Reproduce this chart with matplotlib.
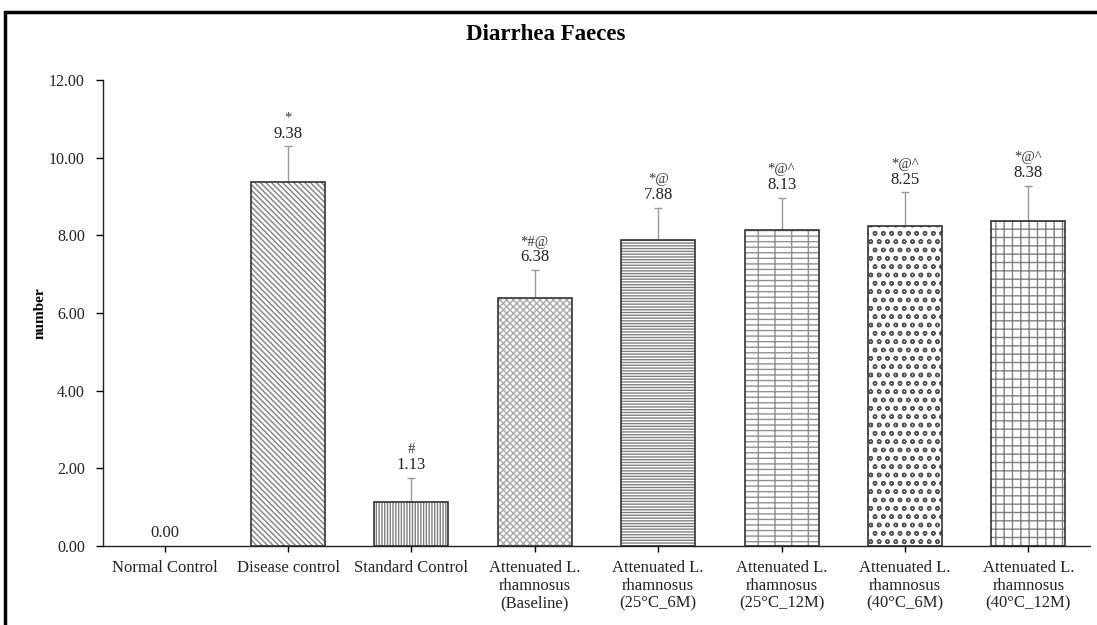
import matplotlib
matplotlib.use("Agg")
import numpy as np
import matplotlib.pyplot as plt
from matplotlib.patches import Rectangle

plt.rcParams['font.family'] = ['Liberation Serif', 'DejaVu Serif']
plt.rcParams['hatch.linewidth'] = 1.0

categories = ["Normal Control", "Disease control", "Standard Control",
              "Attenuated L.\nrhamnosus\n(Baseline)",
              "Attenuated L.\nrhamnosus\n(25°C_6M)",
              "Attenuated L.\nrhamnosus\n(25°C_12M)",
              "Attenuated L.\nrhamnosus\n(40°C_6M)",
              "Attenuated L.\nrhamnosus\n(40°C_12M)"]
means = [0.00, 9.38, 1.13, 6.38, 7.88, 8.13, 8.25, 8.38]
errors = [0.00, 0.91, 0.63, 0.73, 0.83, 0.84, 0.86, 0.90]
marks = ["", "*", "#", "*#@", "*@", "*@^", "*@^", "*@^"]
hatches = ["", "\\\\\\\\\\\\", "||||||", "xxxxx", "------", "+--", "oo", "++"]
hatch_colors = ["#808080", "#808080", "#808080", "#a8a8a8", "#808080",
                "#909090", "#555555", "#808080"]

fig = plt.figure(figsize=(10.97, 6.25), dpi=100)
ax = fig.add_axes([0.0939, 0.1264, 0.8997, 0.7456])

x = np.arange(len(categories))
# hatch layer in grey, outline drawn on top in dark
ax.bar(x, means, width=0.6, color='white', edgecolor=hatch_colors,
       hatch=hatches, linewidth=0, zorder=2)
ax.bar(x, means, width=0.6, color='none', edgecolor='#333333',
       linewidth=[0 if m == 0 else 1.2 for m in means], zorder=3)
ax.errorbar(x[1:], means[1:], yerr=[np.zeros(len(x) - 1), errors[1:]],
            fmt='none', ecolor='#999999', elinewidth=1.0, capsize=3,
            capthick=1.0, zorder=1)

for xi, m, e, s in zip(x, means, errors, marks):
    top = m + e
    ax.text(xi, top + 0.12, f"{m:.2f}", ha='center', va='bottom',
            fontsize=12, color='#222222')
    if s:
        ax.text(xi, top + 0.55, s, ha='center', va='bottom',
                fontsize=10.5, color='#333333')

ax.set_xlim(-0.5, 7.5)
ax.set_ylim(0, 12)
ax.set_yticks(np.arange(0, 12.1, 2))
ax.set_yticklabels([f"{v:.2f}" for v in np.arange(0, 12.1, 2)], fontsize=11.5,
                   color='#222222')
ax.set_xticks(x)
ax.set_xticklabels(categories, fontsize=12, color='#222222',
                   linespacing=1.15)
ax.tick_params(axis='y', length=5, width=1, pad=8)
ax.tick_params(axis='x', length=4, width=1, pad=6)
for side in ['top', 'right']:
    ax.spines[side].set_visible(False)
for side in ['left', 'bottom']:
    ax.spines[side].set_linewidth(1.0)
    ax.spines[side].set_color('#222222')

ax.set_ylabel("number", fontsize=11, fontweight='bold', labelpad=2)
fig.text(0.497, 0.944, "Diarrhea Faeces", ha='center', va='center',
         fontsize=16.5, fontweight='bold')

frame = Rectangle((0.005, -0.1), 1.2, 1.081, transform=fig.transFigure,
                  fill=False, edgecolor='black', linewidth=2.5)
fig.patches.append(frame)

fig.savefig("out.png", dpi=100)
